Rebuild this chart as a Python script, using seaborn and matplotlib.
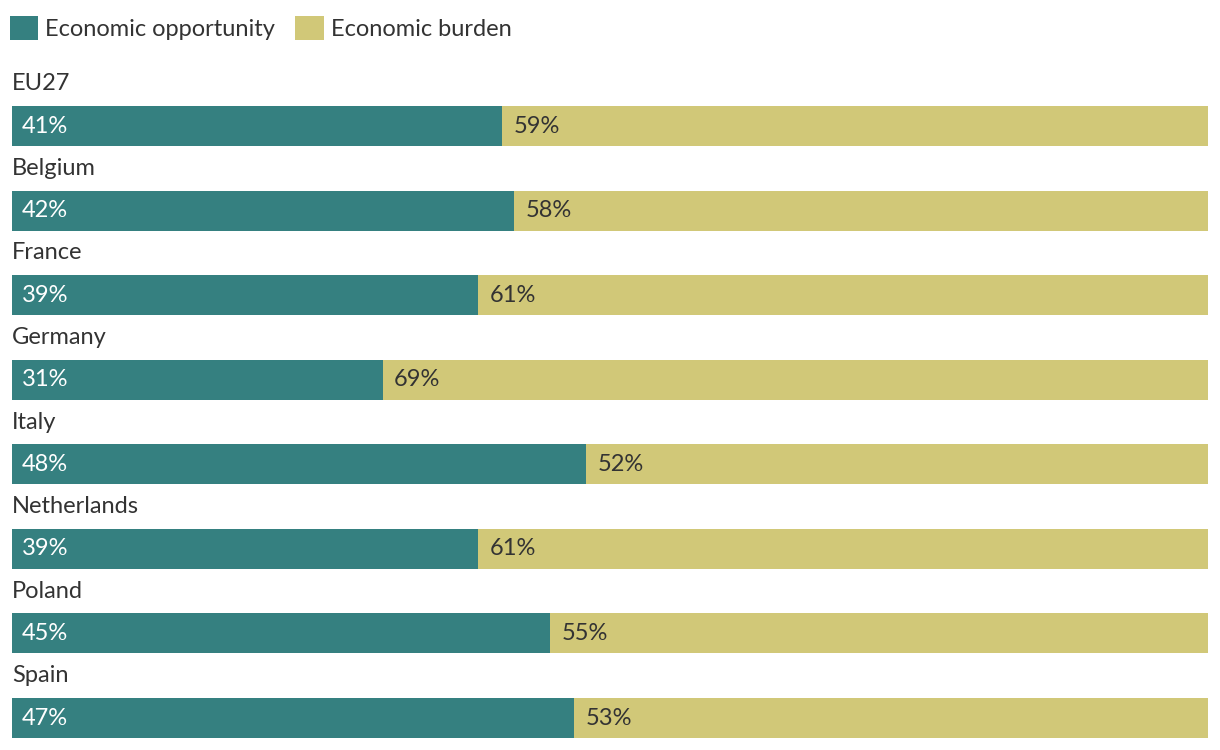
import numpy as np
import pandas as pd
import matplotlib.pyplot as plt
import seaborn as sns
from matplotlib.patches import Patch

# data
countries = ["EU27", "Belgium", "France", "Germany", "Italy", "Netherlands", "Poland", "Spain"]
opportunity = [41, 42, 39, 31, 48, 39, 45, 47]
burden = [59, 58, 61, 69, 52, 61, 55, 53]
legend_labels = ["Economic opportunity", "Economic burden"]

TEAL = "#358080"
KHAKI = "#d1c878"
TEXT = "#333333"

sns.set_theme(style="white")
plt.rcParams["font.family"] = ["Lato", "DejaVu Sans"]

df = pd.DataFrame({"country": countries, "opportunity": opportunity, "burden": burden})
df["total"] = df["opportunity"] + df["burden"]

fig = plt.figure(figsize=(12.2, 7.5), dpi=100)
ax = fig.add_axes([12 / 1220, 0, (1208 - 12) / 1220, 1])

# stacked bars: full-width burden first, opportunity drawn over it
sns.barplot(data=df, x="total", y="country", color=KHAKI, width=0.473,
            saturation=1, linewidth=0, ax=ax)
sns.barplot(data=df, x="opportunity", y="country", color=TEAL, width=0.473,
            saturation=1, linewidth=0, ax=ax)

ax.set_xlim(0, 100)
ax.set_ylim(7.378, -1.49)
ax.set_axis_off()

fs = 17
for i, row in df.iterrows():
    ax.text(0, i - 0.5, row["country"], ha="left", va="center",
            fontsize=fs, color=TEXT)
    ax.text(0.85, i, f"{row['opportunity']}%", ha="left", va="center",
            fontsize=fs, color="white")
    ax.text(row["opportunity"] + 0.95, i, f"{row['burden']}%", ha="left",
            va="center", fontsize=fs, color=TEXT)

handles = [Patch(color=TEAL, linewidth=0), Patch(color=KHAKI, linewidth=0)]
fig.legend(handles, legend_labels, loc="upper left",
           bbox_to_anchor=(10 / 1220, 1 - 16 / 750), ncol=2, frameon=False,
           fontsize=fs, handlelength=1.2, handleheight=1.2,
           handletextpad=0.3, columnspacing=0.85, labelcolor=TEXT,
           borderpad=0, borderaxespad=0)

fig.savefig("out.png", dpi=100)
